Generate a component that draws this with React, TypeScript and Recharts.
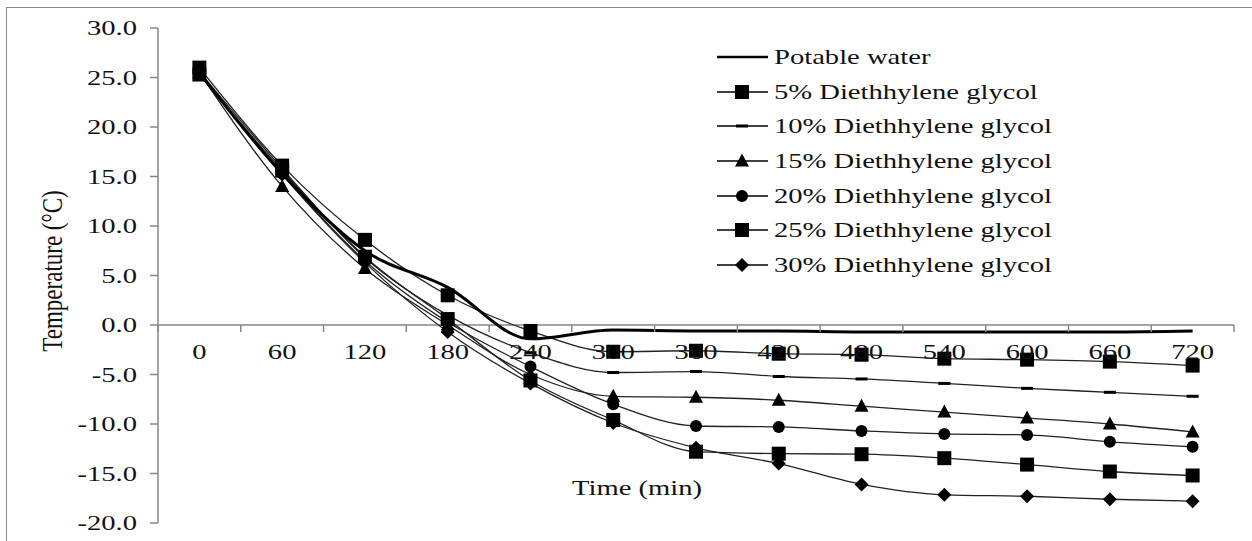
import { LineChart, Line, XAxis, YAxis, ReferenceLine } from "recharts";

// --- data ---
const times = [0, 60, 120, 180, 240, 300, 360, 420, 480, 540, 600, 660, 720];
const potableWater = [25.5, 15.3, 7.5, 3.8, -1.4, -0.5, -0.6, -0.6, -0.7, -0.7, -0.7, -0.7, -0.6];
const deg5 = [26.0, 16.1, 8.6, 3.0, -0.6, -2.7, -2.6, -2.9, -3.0, -3.4, -3.5, -3.7, -4.1];
const deg10 = [25.6, 15.8, 6.8, 1.0, -2.8, -4.8, -4.7, -5.2, -5.45, -5.9, -6.4, -6.8, -7.2];
const deg15 = [25.5, 14.0, 5.7, 0.0, -5.0, -7.2, -7.3, -7.6, -8.2, -8.8, -9.4, -10.0, -10.8];
const deg20 = [25.4, 15.3, 6.5, 0.3, -4.2, -8.0, -10.2, -10.3, -10.7, -11.0, -11.1, -11.8, -12.3];
const deg25 = [25.3, 15.6, 6.9, 0.6, -5.6, -9.6, -12.8, -13.0, -13.05, -13.45, -14.1, -14.8, -15.2];
const deg30 = [25.5, 15.2, 6.3, -0.7, -5.9, -9.9, -12.4, -14.0, -16.1, -17.15, -17.3, -17.6, -17.8];

const yTicks = [-20, -15, -10, -5, 0, 5, 10, 15, 20, 25, 30];

type MarkerKind = "none" | "square" | "dash" | "triangle" | "circle" | "diamond";

const seriesList: { key: string; name: string; values: number[]; marker: MarkerKind; width: number }[] = [
  { key: "d5", name: "5% Diethhylene glycol", values: deg5, marker: "square", width: 1.3 },
  { key: "d10", name: "10% Diethhylene glycol", values: deg10, marker: "dash", width: 1.3 },
  { key: "d15", name: "15% Diethhylene glycol", values: deg15, marker: "triangle", width: 1.3 },
  { key: "d20", name: "20% Diethhylene glycol", values: deg20, marker: "circle", width: 1.3 },
  { key: "d25", name: "25% Diethhylene glycol", values: deg25, marker: "square", width: 1.3 },
  { key: "d30", name: "30% Diethhylene glycol", values: deg30, marker: "diamond", width: 1.3 },
];
const potableSeries = { key: "potable", name: "Potable water", values: potableWater, marker: "none" as MarkerKind, width: 3 };
const legendOrder = [potableSeries, ...seriesList];

const data = times.map((t, i) => {
  const row: Record<string, number> = { t, potable: potableWater[i] };
  seriesList.forEach((s) => (row[s.key] = s.values[i]));
  return row;
});

// --- layout ---
const W = 1252;
const H = 541;
const MARGIN = { top: 28, right: 18, bottom: 0, left: 0 };
const Y_AXIS_W = 158;
const X_AXIS_H = 18;
const X_DOMAIN: [number, number] = [-30, 750];
const Y_DOMAIN: [number, number] = [-20, 30];
const PLOT_W = W - MARGIN.left - MARGIN.right - Y_AXIS_W;
const PLOT_H = H - MARGIN.top - MARGIN.bottom - X_AXIS_H;
const ZERO_Y = MARGIN.top + (PLOT_H * Y_DOMAIN[1]) / (Y_DOMAIN[1] - Y_DOMAIN[0]);
const BAND = (PLOT_W * 60) / (X_DOMAIN[1] - X_DOMAIN[0]);

const FONT = '"Liberation Serif", "Times New Roman", serif';
const INK = "#111";
const AXIS = "#878787";
const STRETCH = 1.3;

function Marker({ cx, cy, kind }: { cx: number; cy: number; kind: MarkerKind }) {
  if (kind === "square") return <rect x={cx - 7} y={cy - 7} width={14} height={14} fill="#000" />;
  if (kind === "dash") return <rect x={cx - 6} y={cy - 1.5} width={12} height={3} fill="#000" />;
  if (kind === "triangle")
    return <polygon points={`${cx},${cy - 7.5} ${cx + 7},${cy + 5.5} ${cx - 7},${cy + 5.5}`} fill="#000" />;
  if (kind === "circle") return <circle cx={cx} cy={cy} r={6} fill="#000" />;
  if (kind === "diamond")
    return <polygon points={`${cx},${cy - 7} ${cx + 7},${cy} ${cx},${cy + 7} ${cx - 7},${cy}`} fill="#000" />;
  return null;
}

function YTick({ x, y, payload }: any) {
  return (
    <text
      transform={`translate(${x - 11},${y}) scale(${STRETCH},1)`}
      textAnchor="end"
      dominantBaseline="central"
      fontFamily={FONT}
      fontSize={22}
      fill={INK}
    >
      {Number(payload.value).toFixed(1)}
    </text>
  );
}

function XTick({ x, payload, index }: any) {
  const last = index === times.length - 1;
  return (
    <g>
      <line x1={x - BAND / 2} x2={x - BAND / 2} y1={ZERO_Y} y2={ZERO_Y + 7} stroke={AXIS} strokeWidth={1.5} />
      {last && <line x1={x + BAND / 2} x2={x + BAND / 2} y1={ZERO_Y} y2={ZERO_Y + 7} stroke={AXIS} strokeWidth={1.5} />}
      <text
        transform={`translate(${x},${ZERO_Y + 27}) scale(${STRETCH},1)`}
        textAnchor="middle"
        dominantBaseline="central"
        fontFamily={FONT}
        fontSize={22}
        fill={INK}
      >
        {payload.value}
      </text>
    </g>
  );
}

function ChartLegend() {
  return (
    <div style={{ position: "absolute", left: 717, top: 40, fontFamily: FONT }}>
      {legendOrder.map((s) => (
        <div key={s.key} style={{ display: "flex", alignItems: "center", height: 34.6 }}>
          <svg width={52} height={20} style={{ display: "block" }}>
            <line x1={0} x2={51} y1={10} y2={10} stroke="#000" strokeWidth={s.width === 3 ? 2.6 : 1.3} />
            <Marker cx={25} cy={10} kind={s.marker} />
          </svg>
          <span
            style={{
              marginLeft: 5,
              fontSize: 22,
              color: INK,
              whiteSpace: "nowrap",
              display: "inline-block",
              transform: `scaleX(${STRETCH})`,
              transformOrigin: "left center",
            }}
          >
            {s.name}
          </span>
        </div>
      ))}
    </div>
  );
}

export default function App() {
  return (
    <div style={{ position: "absolute", left: 0, top: 0, width: W, height: H, background: "#fff", overflow: "hidden" }}>
      {/* outer frame (cropped on right and bottom in the source) */}
      <div
        style={{
          position: "absolute",
          left: 6,
          top: 7,
          width: W,
          height: H,
          borderLeft: `1.5px solid ${AXIS}`,
          borderTop: `1.5px solid ${AXIS}`,
        }}
      />
      <div style={{ position: "absolute", left: 0, top: 0 }}>
        <LineChart width={W} height={H} data={data} margin={MARGIN}>
          <XAxis
            dataKey="t"
            type="number"
            domain={X_DOMAIN}
            ticks={times}
            interval={0}
            height={X_AXIS_H}
            axisLine={false}
            tickLine={false}
            tick={<XTick />}
            label={{
              content: () => (
                <text
                  transform={`translate(637,488) scale(${STRETCH},1)`}
                  textAnchor="middle"
                  dominantBaseline="central"
                  fontFamily={FONT}
                  fontSize={22}
                  fill={INK}
                >
                  Time (min)
                </text>
              ),
            }}
          />
          <YAxis
            type="number"
            domain={Y_DOMAIN}
            ticks={yTicks}
            interval={0}
            width={Y_AXIS_W}
            axisLine={{ stroke: AXIS, strokeWidth: 1.5 }}
            tickLine={{ stroke: AXIS, strokeWidth: 1.5 }}
            tickSize={8}
            tick={<YTick />}
            label={{
              content: () => (
                <text
                  transform={`translate(53,271) rotate(-90) scale(1,1.25)`}
                  textAnchor="middle"
                  dominantBaseline="central"
                  fontFamily={FONT}
                  fontSize={23}
                  fill={INK}
                >
                  Temperature (°C)
                </text>
              ),
            }}
          />
          <ReferenceLine y={0} stroke={AXIS} strokeWidth={1.5} />
          {seriesList.map((s) => (
            <Line
              key={s.key}
              type="monotone"
              dataKey={s.key}
              name={s.name}
              stroke="#222"
              strokeWidth={s.width}
              isAnimationActive={false}
              dot={(p: any) => <Marker key={`${s.key}-${p.index}`} cx={p.cx} cy={p.cy} kind={s.marker} />}
              activeDot={false}
            />
          ))}
          <Line
            type="monotone"
            dataKey="potable"
            name={potableSeries.name}
            stroke="#000"
            strokeWidth={potableSeries.width}
            isAnimationActive={false}
            dot={false}
            activeDot={false}
          />
        </LineChart>
      </div>
      <ChartLegend />
    </div>
  );
}
